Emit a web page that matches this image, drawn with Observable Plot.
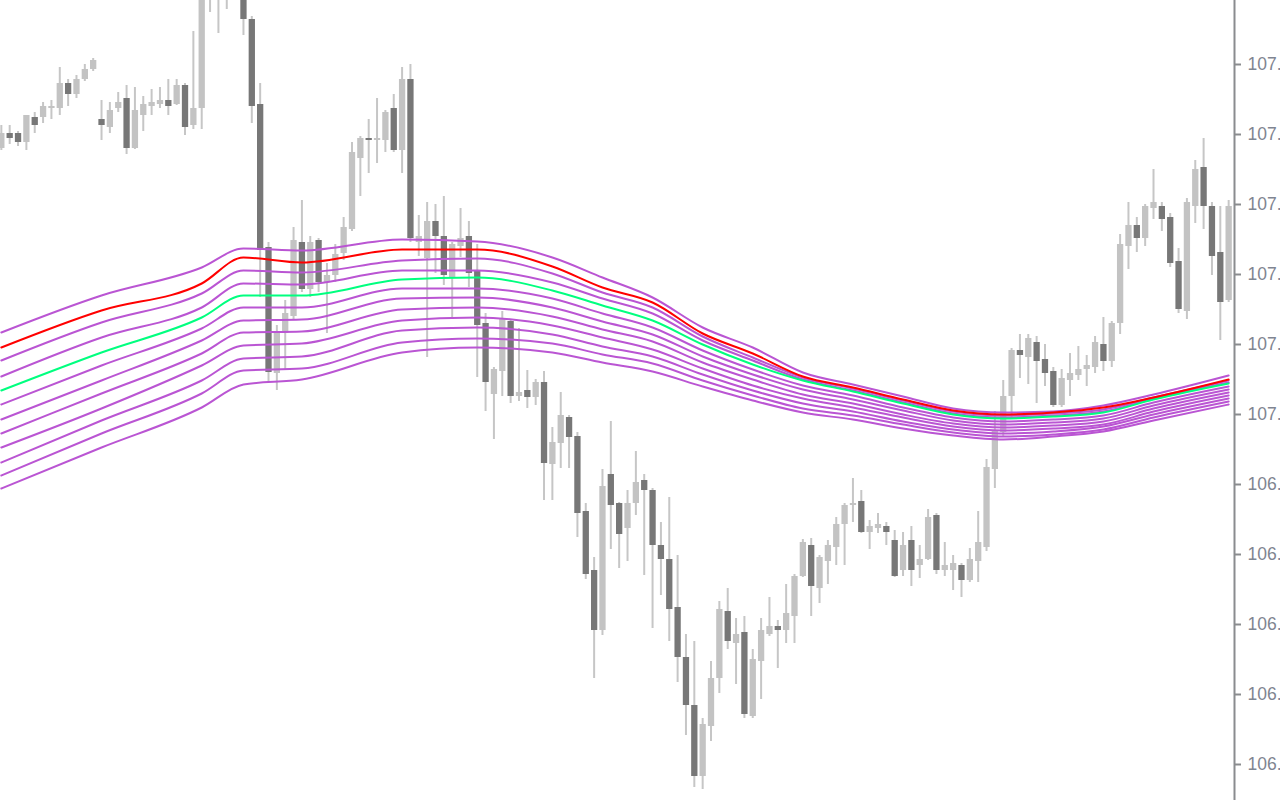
<!DOCTYPE html>
<html>
<head>
<meta charset="utf-8">
<script src="https://cdn.jsdelivr.net/npm/d3@7"></script>
<script src="https://cdn.jsdelivr.net/npm/@observablehq/plot@0.6"></script>
<style>
  html, body { margin: 0; padding: 0; background: #ffffff; overflow: hidden; }
  #chart { width: 1280px; height: 800px; overflow: hidden; }
</style>
</head>
<body>
<div id="chart"></div>
<script>
// ---- Candles (bar index = position in arrays) ----
const opens = [
  107.264,107.279,107.279,107.270,107.295,107.295,107.304,107.304,107.329,107.318,107.333,107.343,
  107.293,107.285,107.304,107.314,107.264,107.297,107.306,107.308,107.312,107.308,107.327,107.287,
  107.304,107.420,107.432,107.462,107.445,107.422,107.393,107.308,107.165,107.039,107.079,107.096,
  107.170,107.123,107.172,107.130,107.137,107.159,107.183,107.254,107.274,107.272,107.272,107.304,
  107.262,107.333,107.170,107.154,107.191,107.176,107.135,107.166,107.176,107.141,107.089,107.018,
  107.041,107.091,107.016,107.022,107.015,107.030,106.948,106.969,106.995,106.976,106.901,106.842,
  106.782,106.938,106.909,106.884,106.909,106.932,106.922,106.867,106.853,106.805,106.755,106.707,
  106.636,106.686,106.734,106.801,106.769,106.780,106.696,106.751,106.778,106.786,106.782,106.796,
  106.836,106.867,106.824,106.851,106.865,106.888,106.907,106.911,106.880,106.884,106.886,106.872,
  106.842,106.872,106.847,106.853,106.897,106.842,106.842,106.847,106.832,106.851,106.865,106.943,
  106.980,107.016,107.062,107.055,107.070,107.053,107.041,107.007,107.032,107.037,107.043,107.045,
  107.068,107.051,107.089,107.166,107.187,107.174,107.204,107.206,107.195,107.151,107.101,107.206,
  107.245,107.206,107.160,107.112
];
const highs = [
  107.287,107.287,107.281,107.297,107.300,107.310,107.312,107.345,107.333,107.337,107.348,107.354,
  107.312,107.310,107.320,107.327,107.325,107.316,107.323,107.325,107.333,107.333,107.329,107.381,
  107.427,107.452,107.467,107.472,107.480,107.427,107.396,107.329,107.170,107.087,107.112,107.185,
  107.212,107.176,107.174,107.149,107.168,107.195,107.270,107.276,107.293,107.314,107.302,107.318,
  107.345,107.348,107.197,107.210,107.208,107.216,107.170,107.204,107.191,107.168,107.099,107.045,
  107.101,107.093,107.084,107.042,107.033,107.041,106.985,107.020,106.997,106.980,106.909,106.855,
  106.943,106.991,106.910,106.922,106.961,106.938,106.924,106.890,106.915,106.857,106.778,106.771,
  106.694,106.751,106.811,106.824,106.794,106.796,106.763,106.794,106.815,106.792,106.828,106.838,
  106.873,106.874,106.857,106.872,106.895,106.909,106.934,106.922,106.892,106.899,106.890,106.882,
  106.880,106.886,106.867,106.903,106.899,106.870,106.857,106.849,106.864,106.901,106.953,107.001,
  107.032,107.064,107.078,107.078,107.076,107.068,107.045,107.043,107.059,107.066,107.057,107.076,
  107.095,107.091,107.178,107.210,107.195,107.208,107.243,107.210,107.199,107.164,107.214,107.252,
  107.274,107.210,107.206,107.212
];
const lows = [
  107.262,107.268,107.266,107.262,107.279,107.289,107.293,107.297,107.306,107.314,107.331,107.341,
  107.272,107.279,107.300,107.258,107.263,107.281,107.297,107.304,107.297,107.307,107.277,107.283,
  107.283,107.400,107.379,107.403,107.418,107.377,107.289,107.115,107.030,107.022,107.042,107.092,
  107.120,107.115,107.120,107.079,107.130,107.152,107.181,107.216,107.239,107.249,107.260,107.260,
  107.239,107.170,107.156,107.055,107.139,107.127,107.095,107.155,107.125,107.035,107.001,106.973,
  107.016,107.009,107.011,107.004,107.007,106.912,106.912,106.944,106.944,106.875,106.833,106.734,
  106.777,106.863,106.844,106.851,106.897,106.837,106.784,106.817,106.771,106.730,106.677,106.625,
  106.623,106.671,106.719,106.763,106.728,106.694,106.694,106.713,106.776,106.744,106.769,106.769,
  106.835,106.796,106.809,106.828,106.847,106.847,106.890,106.879,106.863,106.879,106.867,106.835,
  106.836,106.826,106.834,106.852,106.838,106.836,106.822,106.815,106.830,106.830,106.861,106.924,
  106.975,106.995,107.034,107.028,107.009,107.026,107.005,107.005,107.016,107.032,107.026,107.039,
  107.041,107.045,107.078,107.143,107.160,107.166,107.193,107.181,107.145,107.099,107.093,107.189,
  107.183,107.137,107.072,107.110
];
const closes = [
  107.279,107.274,107.270,107.297,107.287,107.306,107.306,107.329,107.318,107.333,107.343,107.352,
  107.287,107.302,107.310,107.264,107.302,107.308,107.310,107.312,107.306,107.327,107.285,107.304,
  107.417,107.442,107.457,107.442,107.450,107.393,107.306,107.162,107.040,107.079,107.099,107.172,
  107.123,107.170,107.130,107.137,107.158,107.185,107.260,107.274,107.272,107.274,107.300,107.262,
  107.333,107.174,107.176,107.191,107.176,107.137,107.168,107.174,107.139,107.087,107.030,107.043,
  107.093,107.016,107.020,107.015,107.030,106.949,106.970,106.997,106.975,106.899,106.838,106.782,
  106.926,106.907,106.878,106.909,106.930,106.922,106.867,106.853,106.803,106.755,106.707,106.636,
  106.688,106.734,106.803,106.771,106.778,106.698,106.753,106.782,106.786,106.782,106.799,106.836,
  106.870,106.826,106.855,106.867,106.888,106.907,106.909,106.880,106.886,106.888,106.880,106.836,
  106.867,106.842,106.853,106.895,106.842,106.847,106.849,106.832,106.853,106.870,106.945,106.982,
  107.016,107.062,107.057,107.074,107.051,107.039,107.007,107.034,107.039,107.043,107.047,107.070,
  107.051,107.089,107.168,107.187,107.174,107.206,107.210,107.193,107.149,107.103,107.210,107.243,
  107.206,107.156,107.110,107.206
];

// ---- Moving-average ribbon, read at these bar indices ----
const maBars = [0,12,24,29,36,48,57,66,72,78,84,90,96,102,108,114,120,126,132,138,147];
const maPurple1 = [107.080,107.117,107.145,107.164,107.162,107.173,107.171,107.155,107.135,107.115,107.085,107.065,107.040,107.028,107.016,107.004,107.000,107.001,107.007,107.018,107.037];
const maRed     = [107.065,107.102,107.129,107.155,107.150,107.163,107.163,107.146,107.125,107.110,107.079,107.059,107.036,107.025,107.013,107.002,106.998,107.000,107.005,107.015,107.033];
const maPurple2 = [107.052,107.090,107.119,107.142,107.140,107.152,107.154,107.139,107.120,107.105,107.076,107.055,107.035,107.024,107.012,107.001,106.997,106.999,107.003,107.015,107.032];
const maPurple3 = [107.036,107.075,107.105,107.129,107.128,107.142,107.142,107.130,107.114,107.099,107.072,107.052,107.033,107.022,107.010,106.999,106.995,106.997,107.001,107.014,107.030];
const maGreen   = [107.022,107.060,107.095,107.117,107.117,107.133,107.135,107.122,107.107,107.092,107.068,107.048,107.032,107.021,107.009,106.998,106.994,106.996,107.000,107.013,107.029];
const maPurple4 = [107.008,107.047,107.084,107.105,107.105,107.124,107.124,107.114,107.099,107.085,107.062,107.043,107.027,107.017,107.005,106.995,106.991,106.993,106.997,107.010,107.026];
const maPurple5 = [106.993,107.032,107.072,107.092,107.093,107.114,107.115,107.105,107.091,107.078,107.056,107.038,107.023,107.013,107.002,106.992,106.988,106.990,106.994,107.007,107.023];
const maPurple6 = [106.979,107.019,107.059,107.080,107.081,107.103,107.105,107.096,107.083,107.071,107.050,107.033,107.018,107.009,106.998,106.989,106.985,106.987,106.991,107.004,107.020];
const maPurple7 = [106.965,107.004,107.047,107.067,107.069,107.092,107.095,107.087,107.075,107.063,107.044,107.027,107.014,107.005,106.995,106.986,106.982,106.984,106.988,107.001,107.017];
const maPurple8 = [106.950,106.992,107.032,107.054,107.056,107.082,107.085,107.078,107.066,107.056,107.038,107.022,107.009,107.001,106.991,106.983,106.979,106.981,106.986,106.998,107.014];
const maPurple9 = [106.937,106.979,107.019,107.042,107.044,107.070,107.074,107.069,107.058,107.049,107.032,107.017,107.004,106.997,106.988,106.980,106.976,106.978,106.983,106.995,107.011];
const maPurple10= [106.924,106.965,107.005,107.028,107.033,107.060,107.065,107.060,107.050,107.041,107.026,107.012,107.000,106.993,106.984,106.977,106.973,106.976,106.981,106.992,107.008];

// ---- Price-axis ticks ----
const priceTicks = [106.650,106.720,106.790,106.860,106.930,107.000,107.070,107.140,107.210,107.280,107.350,107.420];

const candles = opens.map((o, i) => ({
  bar: i, open: o, high: highs[i], low: lows[i], close: closes[i]
}));
const upCandles = candles.filter(d => d.close >= d.open);
const downCandles = candles.filter(d => d.close < d.open);

const toLine = arr => maBars.map((b, k) => ({bar: b, value: arr[k]}));
const purpleLines = [maPurple1, maPurple2, maPurple3, maPurple4, maPurple5, maPurple6,
                     maPurple7, maPurple8, maPurple9, maPurple10];

const PURPLE = "#ba55d3", RED = "#ff0000", GREEN = "#00ff7f";
const WICK = "#c6c6c6", BULL = "#c3c3c3", BEAR = "#777777";

const lineMark = (arr, color) => Plot.line(toLine(arr), {
  x: "bar", y: "value", stroke: color, strokeWidth: 2, curve: "monotone-x", clip: true
});

const chart = Plot.plot({
  width: 1280,
  height: 800,
  marginLeft: 0,
  marginRight: 46,
  marginTop: 0,
  marginBottom: 0,
  style: {fontFamily: "'Liberation Sans', Arial, sans-serif", fontSize: "17.5px", background: "#ffffff"},
  x: {domain: [-0.1, 147.7], axis: null},
  y: {domain: [106.612, 107.412], axis: null},
  marks: [
    Plot.ruleX(candles, {x: "bar", y1: "low", y2: "high", stroke: WICK, strokeWidth: 2, clip: true}),
    Plot.ruleX(upCandles, {x: "bar", y1: "open", y2: "close", stroke: BULL, strokeWidth: 6.3, clip: true}),
    Plot.ruleX(downCandles, {x: "bar", y1: "open", y2: "close", stroke: BEAR, strokeWidth: 6.3, clip: true}),
    ...purpleLines.map(a => lineMark(a, PURPLE)),
    lineMark(maGreen, GREEN),
    lineMark(maRed, RED),
    Plot.axisY({
      anchor: "right", ticks: priceTicks, tickSize: 6, tickPadding: 7,
      tickFormat: d => d.toFixed(3), stroke: "#8a8c8f", strokeWidth: 2,
      fill: "#7f8591", fontSize: 17.5, dy: 2, label: null
    }),
    Plot.frame({anchor: "right", stroke: "#8a8c8f", strokeWidth: 2})
  ]
});
chart.style.maxWidth = "none";
chart.style.overflow = "hidden";
document.getElementById("chart").appendChild(chart);
</script>
</body>
</html>
